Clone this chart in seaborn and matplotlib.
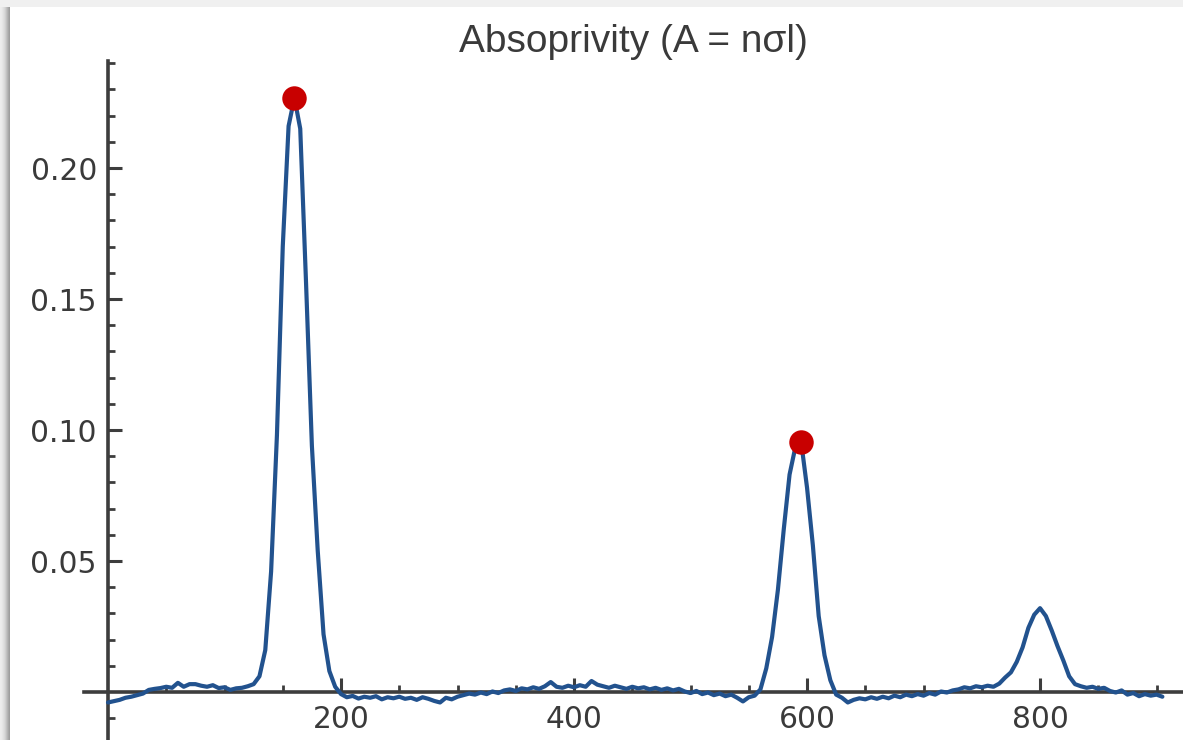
import numpy as np
import pandas as pd
import matplotlib
matplotlib.use("Agg")
import matplotlib.pyplot as plt
from matplotlib.patches import Rectangle
from matplotlib.ticker import FixedLocator, FormatStrFormatter
import seaborn as sns

# Absorptivity spectrum sampled every 5 channels (0 .. 905)
channel = list(range(0, 910, 5))
absorptivity = [
    # 0 - 120
    -0.0040, -0.0035, -0.0030, -0.0022, -0.0018, -0.0012, -0.0006, 0.0008, 0.0012, 0.0015,
    0.0020, 0.0016, 0.0035, 0.0020, 0.0030, 0.0030, 0.0024, 0.0020, 0.0026, 0.0015,
    0.0018, 0.0008, 0.0014, 0.0016, 0.0022,
    # 125 - 200 (first band)
    0.0030, 0.0060, 0.0160, 0.0460, 0.0980, 0.1700, 0.2160, 0.2268, 0.2150, 0.1560,
    0.0940, 0.0540, 0.0220, 0.0080, 0.0020, -0.0008,
    # 205 - 560
    -0.0020, -0.0015, -0.0025, -0.0018, -0.0022, -0.0016, -0.0028, -0.0020, -0.0024, -0.0018,
    -0.0026, -0.0022, -0.0030, -0.0020, -0.0026, -0.0034, -0.0040, -0.0022, -0.0028, -0.0018,
    -0.0012, -0.0006, -0.0010, -0.0002, -0.0008, 0.0002, -0.0004, 0.0006, 0.0010, 0.0004,
    0.0014, 0.0010, 0.0018, 0.0012, 0.0022, 0.0038, 0.0020, 0.0016, 0.0024, 0.0018,
    0.0026, 0.0020, 0.0042, 0.0028, 0.0022, 0.0016, 0.0024, 0.0018, 0.0012, 0.0020,
    0.0014, 0.0018, 0.0010, 0.0016, 0.0008, 0.0014, 0.0006, 0.0012, 0.0002, -0.0004,
    0.0004, -0.0008, -0.0002, -0.0012, -0.0006, -0.0016, -0.0010, -0.0022, -0.0036, -0.0020,
    -0.0014, 0.0010,
    # 565 - 630 (second band)
    0.0090, 0.0210, 0.0390, 0.0620, 0.0830, 0.0935, 0.0953, 0.0780, 0.0560, 0.0290,
    0.0140, 0.0045, -0.0010, -0.0022,
    # 635 - 765
    -0.0040, -0.0030, -0.0024, -0.0028, -0.0020, -0.0026, -0.0018, -0.0024, -0.0014, -0.0020,
    -0.0010, -0.0016, -0.0008, -0.0014, -0.0004, -0.0010, 0.0002, -0.0002, 0.0006, 0.0010,
    0.0018, 0.0014, 0.0022, 0.0018, 0.0024, 0.0020, 0.0032,
    # 770 - 830 (third band)
    0.0055, 0.0075, 0.0115, 0.0170, 0.0245, 0.0295, 0.0320, 0.0290, 0.0235, 0.0175,
    0.0120, 0.0060, 0.0030,
    # 835 - 905
    0.0022, 0.0016, 0.0020, 0.0012, 0.0016, 0.0004, -0.0002, 0.0006, -0.0010, -0.0004,
    -0.0016, -0.0008, -0.0014, -0.0010, -0.0018,
]

x_major = [200, 400, 600, 800]
x_minor = [50, 100, 150, 250, 300, 350, 450, 500, 550, 650, 700, 750, 850, 900]
y_major = [0.05, 0.10, 0.15, 0.20]
y_minor = [-0.01, 0.01, 0.02, 0.03, 0.04, 0.06, 0.07, 0.08, 0.09, 0.11, 0.12, 0.13,
           0.14, 0.16, 0.17, 0.18, 0.19, 0.21, 0.22, 0.23, 0.24]

title_text = "Absoprivity (A = nσl)"

spectrum = pd.DataFrame({"channel": channel, "absorptivity": absorptivity})

# strong bands: local maxima above 0.05
vals = spectrum["absorptivity"].to_numpy()
peak_idx = [i for i in range(1, len(vals) - 1)
            if vals[i] >= vals[i - 1] and vals[i] >= vals[i + 1] and vals[i] > 0.05]
peaks = spectrum.iloc[peak_idx]

sns.set_theme(style="white")
plt.rcParams["font.family"] = ["DejaVu Sans"]

axis_color = "#3d3d3d"
line_color = "#22528e"
dot_color = "#c80000"

W, H = 1183, 740
fig = plt.figure(figsize=(W / 100, H / 100), dpi=100)
fig.patch.set_facecolor("white")

# window frame: light strip along the top and soft shadow on the left
fig.add_artist(Rectangle((0, 1 - 7 / H), 1, 7 / H, transform=fig.transFigure,
                         facecolor="#f0f0f0", edgecolor="none", zorder=0))
shade = [0.93, 0.92, 0.90, 0.88, 0.85, 0.81, 0.76, 0.71, 0.66, 0.62]
for i, g in enumerate(shade):
    fig.add_artist(Rectangle((i / W, 0), 1 / W, 1 - 7 / H, transform=fig.transFigure,
                             facecolor=(g, g, g), edgecolor="none", zorder=0))

ax_left = 84 / W
ax = fig.add_axes([ax_left, 0.0, 1 - ax_left, (H - 61) / H])
ax.set_facecolor("none")

sns.lineplot(data=spectrum, x="channel", y="absorptivity", ax=ax, color=line_color,
             linewidth=3.0, estimator=None, zorder=3)
sns.scatterplot(data=peaks, x="channel", y="absorptivity", ax=ax, color=dot_color,
                s=310, linewidth=0, zorder=4)

ax.set_xlim(-20.6, 922.7)
ax.set_ylim(-0.01832, 0.24084)

# axes crossing at the origin
for side in ("top", "right"):
    ax.spines[side].set_visible(False)
ax.spines["left"].set_position(("data", 0))
ax.spines["bottom"].set_position(("data", 0))
for side in ("left", "bottom"):
    ax.spines[side].set_color(axis_color)
    ax.spines[side].set_linewidth(2.6)
    ax.spines[side].set_zorder(2)

ax.xaxis.set_major_locator(FixedLocator(x_major))
ax.xaxis.set_minor_locator(FixedLocator(x_minor))
ax.yaxis.set_major_locator(FixedLocator(y_major))
ax.yaxis.set_minor_locator(FixedLocator(y_minor))
ax.xaxis.set_major_formatter(FormatStrFormatter("%d"))
ax.yaxis.set_major_formatter(FormatStrFormatter("%.2f"))

ax.tick_params(axis="both", which="both", direction="in", color=axis_color,
               labelcolor="#3a3a3a", labelsize=21.4,
               bottom=True, left=True, top=False, right=False)
ax.tick_params(axis="both", which="major", length=10, width=2.2)
ax.tick_params(axis="both", which="minor", length=5, width=2.0)
ax.tick_params(axis="x", which="major", pad=9)
ax.tick_params(axis="y", which="major", pad=8)

ax.set_xlabel("")
ax.set_ylabel("")
ax.set_title(title_text, fontsize=28, family=["Liberation Sans", "DejaVu Sans"],
             color="#3a3a3a", pad=6.5)

fig.savefig("out.png", dpi=100)
